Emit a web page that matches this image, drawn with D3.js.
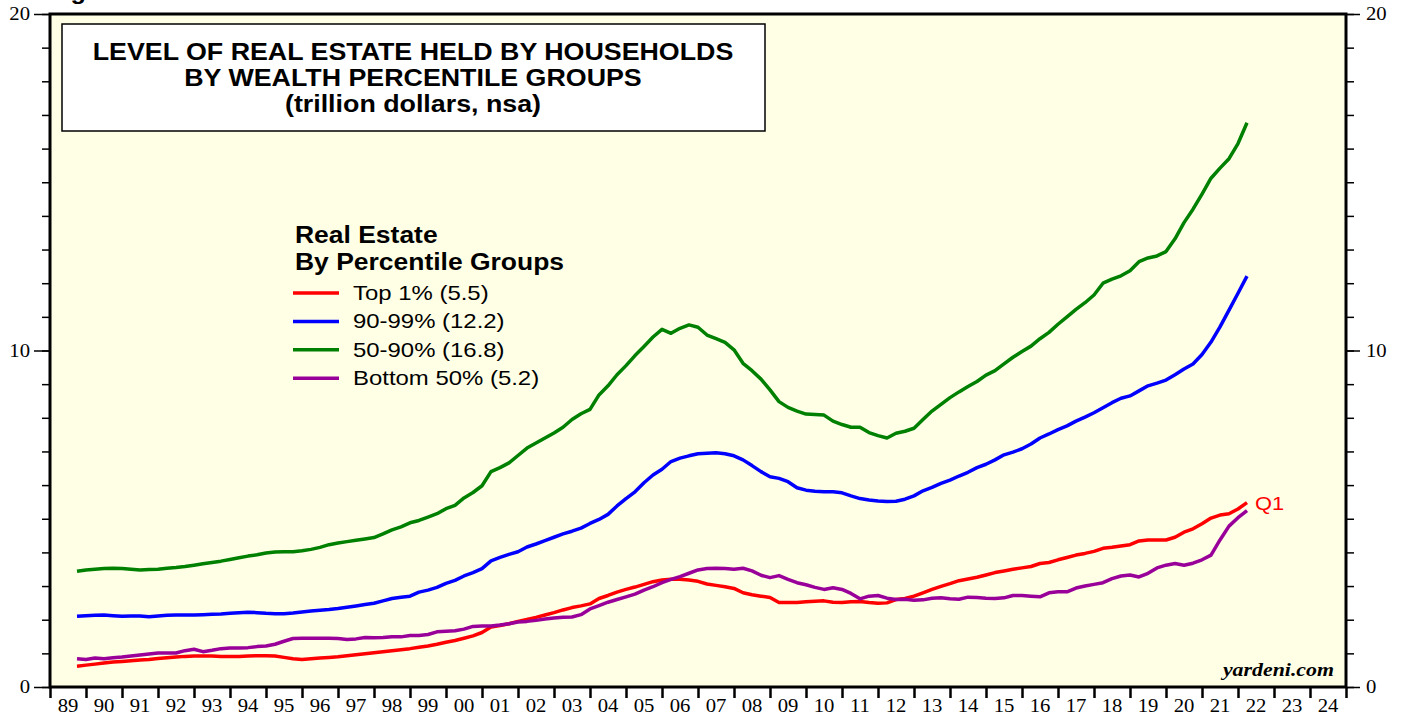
<!DOCTYPE html>
<html>
<head>
<meta charset="utf-8">
<script src="https://cdn.jsdelivr.net/npm/d3@7"></script>
<style>
body { margin: 0; background: #fff; }
svg { display: block; }
</style>
</head>
<body>
<div id="chart"></div>
<script>
// quarterly data, first point is 1989 Q3, last is 2022 Q1 (trillion dollars)
const firstQuarter = 1989.75;

const top1 = [0.62, 0.65,
  0.68, 0.71, 0.74, 0.76,  0.78, 0.80, 0.82, 0.85,  0.87, 0.89, 0.91, 0.92,
  0.92, 0.92, 0.91, 0.91,  0.91, 0.92, 0.93, 0.93,  0.92, 0.88, 0.84, 0.82,
  0.84, 0.86, 0.88, 0.90,  0.93, 0.96, 0.99, 1.02,  1.05, 1.08, 1.11, 1.14,
  1.18, 1.22, 1.27, 1.33,  1.38, 1.45, 1.52, 1.62,  1.78, 1.83, 1.88, 1.95,
  2.01, 2.07, 2.14, 2.21,  2.29, 2.36, 2.41, 2.47,  2.63, 2.72, 2.82, 2.90,
  2.97, 3.05, 3.13, 3.18,  3.20, 3.20, 3.18, 3.14,  3.06, 3.02, 2.98, 2.93,
  2.80, 2.74, 2.70, 2.66,  2.51, 2.51, 2.51, 2.53,  2.55, 2.56, 2.52, 2.51,
  2.53, 2.54, 2.51, 2.49,  2.50, 2.60, 2.63, 2.70,  2.80, 2.90, 2.99, 3.07,
  3.16, 3.21, 3.26, 3.33,  3.40, 3.45, 3.50, 3.54,  3.58, 3.67, 3.70, 3.78,
  3.85, 3.92, 3.97, 4.03,  4.12, 4.15, 4.19, 4.23,  4.34, 4.37, 4.37, 4.37,
  4.45, 4.60, 4.70, 4.85,  5.02, 5.11, 5.15, 5.29,
  5.48];

const p90to99 = [2.10, 2.12,
  2.13, 2.14, 2.12, 2.10,  2.11, 2.11, 2.09, 2.11,  2.13, 2.14, 2.14, 2.14,
  2.15, 2.16, 2.17, 2.19,  2.21, 2.22, 2.21, 2.19,  2.18, 2.18, 2.20, 2.23,
  2.26, 2.28, 2.30, 2.33,  2.37, 2.41, 2.45, 2.49,  2.56, 2.63, 2.67, 2.70,
  2.82, 2.88, 2.96, 3.08,  3.17, 3.30, 3.40, 3.52,  3.75, 3.85, 3.94, 4.02,
  4.16, 4.25, 4.35, 4.45,  4.55, 4.63, 4.72, 4.86,  4.98, 5.13, 5.38, 5.60,
  5.80, 6.07, 6.30, 6.47,  6.70, 6.80, 6.87, 6.93,  6.95, 6.96, 6.93, 6.87,
  6.75, 6.58, 6.40, 6.25,  6.20, 6.10, 5.92, 5.85,  5.82, 5.80, 5.80, 5.77,
  5.68, 5.60, 5.56, 5.53,  5.51, 5.52, 5.58, 5.68,  5.83, 5.93, 6.05, 6.15,
  6.27, 6.38, 6.52, 6.62,  6.75, 6.90, 6.98, 7.08,  7.22, 7.40, 7.52, 7.65,
  7.76, 7.90, 8.02, 8.15,  8.30, 8.45, 8.58, 8.65,  8.80, 8.95, 9.03, 9.12,
  9.28, 9.45, 9.60, 9.88,  10.25, 10.70, 11.20, 11.70,
  12.21];

const p50to90 = [3.44, 3.48,
  3.50, 3.52, 3.53, 3.52,  3.50, 3.48, 3.49, 3.50,  3.53, 3.55, 3.58, 3.62,
  3.66, 3.70, 3.74, 3.79,  3.84, 3.89, 3.93, 3.98,  4.01, 4.02, 4.02, 4.05,
  4.09, 4.15, 4.23, 4.28,  4.32, 4.36, 4.40, 4.44,  4.55, 4.67, 4.76, 4.88,
  4.95, 5.05, 5.15, 5.30,  5.40, 5.62, 5.78, 5.98,  6.40, 6.52, 6.66, 6.88,
  7.10, 7.25, 7.40, 7.55,  7.72, 7.95, 8.12, 8.25,  8.68, 8.95, 9.28, 9.55,
  9.85, 10.12, 10.40, 10.63,  10.51, 10.66, 10.76, 10.69,  10.46, 10.35, 10.24, 10.02,
  9.62, 9.40, 9.15, 8.83,  8.48, 8.31, 8.20, 8.11,  8.10, 8.08, 7.90, 7.80,
  7.72, 7.72, 7.56, 7.47,  7.40, 7.54, 7.60, 7.69,  7.95, 8.20, 8.40, 8.60,
  8.77, 8.93, 9.08, 9.27,  9.40, 9.60, 9.80, 9.97,  10.13, 10.35, 10.54, 10.78,
  11.00, 11.22, 11.42, 11.65,  12.00, 12.12, 12.22, 12.37,  12.64, 12.75, 12.81, 12.94,
  13.32, 13.80, 14.20, 14.65,  15.12, 15.42, 15.70, 16.15,
  16.77];

const bottom50 = [0.84, 0.82,
  0.86, 0.84, 0.87, 0.89,  0.92, 0.95, 0.98, 1.01,  1.01, 1.01, 1.08, 1.12,
  1.05, 1.09, 1.14, 1.16,  1.16, 1.17, 1.20, 1.22,  1.27, 1.36, 1.44, 1.45,
  1.45, 1.45, 1.45, 1.44,  1.41, 1.43, 1.47, 1.46,  1.47, 1.49, 1.49, 1.53,
  1.53, 1.56, 1.64, 1.66,  1.67, 1.72, 1.80, 1.81,  1.81, 1.84, 1.88, 1.93,
  1.95, 1.98, 2.02, 2.05,  2.07, 2.08, 2.15, 2.32,  2.42, 2.52, 2.60, 2.68,
  2.76, 2.88, 2.98, 3.10,  3.20, 3.28, 3.38, 3.48,  3.52, 3.53, 3.52, 3.50,
  3.53, 3.45, 3.32, 3.25,  3.31, 3.20, 3.10, 3.04,  2.96, 2.90, 2.95, 2.90,
  2.78, 2.62, 2.70, 2.72,  2.64, 2.60, 2.61, 2.58,  2.59, 2.64, 2.65, 2.62,
  2.61, 2.67, 2.66, 2.64,  2.63, 2.65, 2.72, 2.72,  2.70, 2.68, 2.80, 2.83,
  2.83, 2.94, 3.00, 3.05,  3.10, 3.22, 3.30, 3.33,  3.27, 3.38, 3.54, 3.62,
  3.67, 3.62, 3.68, 3.78,  3.92, 4.37, 4.78, 5.03,
  5.24];

const seriesNames = ['Top 1% (5.5)', '90-99% (12.2)', '50-90% (16.8)', 'Bottom 50% (5.2)'];
const seriesColors = ['#ff0000', '#0000ff', '#008000', '#990099'];
const seriesValues = [top1, p90to99, p50to90, bottom50];

const yearLabels = ['89','90','91','92','93','94','95','96','97','98','99','00','01','02',
  '03','04','05','06','07','08','09','10','11','12','13','14','15','16','17','18','19',
  '20','21','22','23','24'];
const yMinorTicks = [0,1,2,3,4,5,6,7,8,9,10,11,12,13,14,15,16,17,18,19,20];
const yMajorTicks = [0, 10, 20];

const titleLines = ['LEVEL OF REAL ESTATE HELD BY HOUSEHOLDS', 'BY WEALTH PERCENTILE GROUPS', '(trillion dollars, nsa)'];
const legendTitle = ['Real Estate', 'By Percentile Groups'];

const width = 1405, height = 717;
const stretch = 1.15; // the reference text is a little wider than the fonts

const svg = d3.select('#chart').append('svg')
  .attr('width', width)
  .attr('height', height);

const x = d3.scaleLinear().domain([1989, 2025]).range([50, 1346]);
const y = d3.scaleLinear().domain([0, 20]).range([687, 14]);

const widen = sel => sel.each(function () {
  const w = this.getComputedTextLength();
  d3.select(this).attr('textLength', w * stretch).attr('lengthAdjust', 'spacingAndGlyphs');
});

// header cut off at top
svg.append('text')
  .attr('x', 48).attr('y', -1)
  .attr('font-family', 'Liberation Sans, Arial, sans-serif')
  .attr('font-weight', 'bold')
  .attr('font-size', 22)
  .text('Figure 5.')
  .call(widen);

// plot background
svg.append('rect')
  .attr('x', x(1989)).attr('y', y(20))
  .attr('width', x(2025) - x(1989)).attr('height', y(0) - y(20))
  .attr('fill', '#ffffe6');

// axes
const styleAxis = g => {
  g.select('.domain').remove();
  g.selectAll('.tick line').attr('stroke', '#000').attr('stroke-width', 1.5);
  g.selectAll('.tick text').attr('font-family', 'Liberation Serif, Times New Roman, serif')
    .attr('font-size', 18).attr('fill', '#000');
};

svg.append('g').attr('transform', `translate(${x(1989)},0)`)
  .call(d3.axisLeft(y).tickValues(yMinorTicks).tickSize(8).tickFormat(''))
  .call(styleAxis);
svg.append('g').attr('transform', `translate(${x(1989)},0)`)
  .call(d3.axisLeft(y).tickValues(yMajorTicks).tickSize(16).tickPadding(4))
  .call(styleAxis)
  .selectAll('.tick text').call(widen);

svg.append('g').attr('transform', `translate(${x(2025)},0)`)
  .call(d3.axisRight(y).tickValues(yMinorTicks).tickSize(8).tickFormat(''))
  .call(styleAxis);
svg.append('g').attr('transform', `translate(${x(2025)},0)`)
  .call(d3.axisRight(y).tickValues(yMajorTicks).tickSize(14).tickPadding(6))
  .call(styleAxis)
  .selectAll('.tick text').call(widen);

svg.append('g').attr('transform', `translate(0,${y(0)})`)
  .call(d3.axisBottom(x).tickValues(d3.range(1989, 2026)).tickSize(11).tickFormat(''))
  .call(styleAxis)
  .selectAll('.tick line').attr('stroke-width', 2.5);

svg.append('g').selectAll('text')
  .data(yearLabels)
  .join('text')
  .attr('x', (d, i) => x(1989 + i + 0.5))
  .attr('y', 712)
  .attr('text-anchor', 'middle')
  .attr('font-family', 'Liberation Serif, Times New Roman, serif')
  .attr('font-size', 18)
  .text(d => d)
  .call(widen);

// frame
svg.append('rect')
  .attr('x', x(1989)).attr('y', y(20))
  .attr('width', x(2025) - x(1989)).attr('height', y(0) - y(20))
  .attr('fill', 'none').attr('stroke', '#000').attr('stroke-width', 3);

// title box
svg.append('rect')
  .attr('x', 62).attr('y', 24).attr('width', 703).attr('height', 107)
  .attr('fill', '#fff').attr('stroke', '#000').attr('stroke-width', 1.5);

svg.append('g').selectAll('text')
  .data(titleLines)
  .join('text')
  .attr('x', 413)
  .attr('y', (d, i) => 60 + i * 26)
  .attr('text-anchor', 'middle')
  .attr('font-family', 'Liberation Sans, Arial, sans-serif')
  .attr('font-weight', 'bold')
  .attr('font-size', 23.3)
  .text(d => d)
  .call(widen);

// lines
const line = d3.line()
  .x((d, i) => x(firstQuarter + i * 0.25))
  .y(d => y(d));

svg.append('g').selectAll('path')
  .data(seriesValues)
  .join('path')
  .attr('d', line)
  .attr('fill', 'none')
  .attr('stroke', (d, i) => seriesColors[i])
  .attr('stroke-width', 3.5)
  .attr('stroke-linejoin', 'round');

svg.append('text')
  .attr('x', x(firstQuarter + (top1.length - 1) * 0.25) + 8)
  .attr('y', y(top1[top1.length - 1]) + 7)
  .attr('font-family', 'Liberation Sans, Arial, sans-serif')
  .attr('font-size', 19)
  .attr('fill', '#ff0000')
  .text('Q1')
  .call(widen);

// legend
const legend = svg.append('g');
legend.selectAll('text.head')
  .data(legendTitle)
  .join('text')
  .attr('class', 'head')
  .attr('x', 295)
  .attr('y', (d, i) => 243 + i * 27)
  .attr('font-family', 'Liberation Sans, Arial, sans-serif')
  .attr('font-weight', 'bold')
  .attr('font-size', 23)
  .text(d => d)
  .call(widen);

const item = legend.selectAll('g.item')
  .data(seriesNames)
  .join('g')
  .attr('class', 'item')
  .attr('transform', (d, i) => `translate(0,${293 + i * 28.4})`);

item.append('line')
  .attr('x1', 293).attr('x2', 339)
  .attr('stroke', (d, i) => seriesColors[i])
  .attr('stroke-width', 3.5);

item.append('text')
  .attr('x', 353).attr('y', 7)
  .attr('font-family', 'Liberation Sans, Arial, sans-serif')
  .attr('font-size', 20.8)
  .text(d => d)
  .call(widen);

// source
svg.append('text')
  .attr('x', 1334).attr('y', 676)
  .attr('text-anchor', 'end')
  .attr('font-family', 'Liberation Serif, Times New Roman, serif')
  .attr('font-weight', 'bold')
  .attr('font-style', 'italic')
  .attr('font-size', 19)
  .text('yardeni.com')
  .call(widen);
</script>
</body>
</html>
